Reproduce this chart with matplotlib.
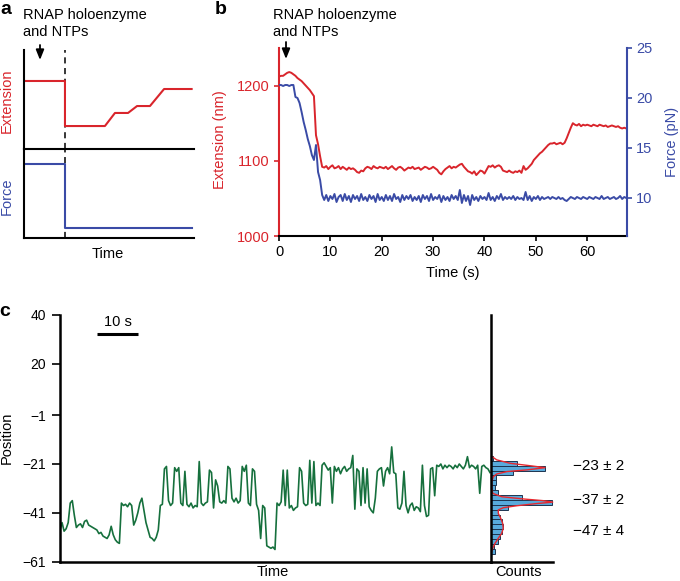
import numpy as np
import matplotlib
matplotlib.use('Agg')
import matplotlib.pyplot as plt
from matplotlib.patches import FancyArrowPatch

plt.rcParams['font.family'] = ['Liberation Sans', 'DejaVu Sans']

# ---------------- data ----------------
# panel a (schematic)
a_inject = 2.41
a_ext_t = [0, 2.41, 2.41, 4.76, 5.35, 6.12, 6.65, 7.41, 8.24, 9.86]
a_ext = [6.87, 6.87, 2.32, 2.32, 3.64, 3.64, 4.34, 4.34, 6.06, 6.06]
a_force_t = [0, 2.41, 2.41, 9.86]
a_force = [8.31, 8.31, 1.12, 1.12]

# panel b (sampled every 0.4 s)
b_dt = 0.4
b_ext = [
    1212, 1213, 1213, 1215, 1217, 1218,
    1217, 1215, 1213, 1210, 1208,
    1206, 1203, 1200, 1197, 1194, 1190, 1186,
    1134, 1122, 1106, 1092,
    1091, 1093, 1089, 1092, 1094, 1090, 1091, 1093, 1089, 1092, 1090, 1088, 1091, 1089, 1090, 1088,
    1085, 1084, 1087, 1086,
    1090, 1092, 1091, 1089, 1093, 1091, 1090, 1092, 1091,
    1090, 1092, 1089, 1091, 1093, 1090, 1088, 1091, 1092, 1090, 1087, 1089, 1091, 1090, 1092, 1089,
    1090, 1091, 1088, 1090, 1092, 1091, 1089, 1090, 1092, 1090,
    1088, 1084, 1082, 1086, 1089,
    1091, 1093, 1090, 1092, 1091, 1093, 1095,
    1096, 1092, 1089,
    1086, 1085, 1083, 1086, 1081, 1084, 1087, 1086, 1083, 1088,
    1093, 1092, 1094, 1091, 1093, 1094, 1092,
    1087, 1086, 1085, 1087, 1085, 1084, 1086, 1085, 1087, 1084, 1093,
    1088, 1090, 1093, 1096, 1101,
    1104, 1107, 1110, 1112, 1115, 1118, 1121, 1123,
    1123, 1124, 1122, 1123, 1124, 1122,
    1124, 1130, 1137, 1144, 1150,
    1148, 1147, 1149, 1146, 1148, 1147, 1148, 1147, 1146, 1148, 1147, 1146, 1148,
    1147, 1146, 1147, 1145, 1146, 1147, 1146, 1145, 1146, 1144, 1143, 1144, 1143,
]
b_force = [
    21.3, 21.3, 21.2, 21.3, 21.3, 21.2, 21.3, 21.3,
    20.1, 20.0, 19.5, 18.6, 17.6, 16.8, 15.9, 15.2, 14.3, 13.8, 15.3, 12.6, 11.8, 10.3,
    9.8, 10.3, 9.7, 10.2, 9.9, 10.4, 9.6, 10.1, 10.3, 9.7,
    10.4, 9.8, 10.2, 9.6, 10.3, 9.9, 10.2, 9.7, 10.4, 9.8,
    10.1, 9.7, 10.3, 9.9, 10.2, 9.6, 10.4, 9.8, 10.1, 9.7,
    10.3, 9.8, 10.2, 9.7, 10.4, 9.9, 10.1, 9.6, 10.3, 9.8,
    10.2, 9.9, 10.3, 9.7, 10.1, 9.8, 10.2, 9.6, 10.3, 9.9,
    10.2, 9.7, 10.4, 9.8, 10.1, 9.9, 10.3, 9.6, 10.2, 9.8,
    10.1, 9.7, 10.3, 9.9, 10.2, 9.8, 10.8, 9.5, 10.3, 9.7,
    10.2, 9.3, 10.3, 9.8, 10.1, 9.7, 10.2, 9.9, 10.1, 9.8,
    10.5, 9.8, 10.1, 9.7, 10.2, 9.9, 10.4, 9.8, 10.1, 9.9,
    10.1, 9.9, 10.2, 9.8, 10.1, 9.9, 10.0, 9.8, 10.6, 9.8,
    10.2, 9.7, 10.1, 9.9, 10.2, 9.8, 10.1, 9.9, 10.0, 10.1,
    9.9, 10.1, 10.0, 9.9, 10.1, 9.9, 10.0, 9.8, 9.7, 9.9,
    10.1, 10.0, 9.9, 10.1, 10.0, 9.9, 10.1, 10.0, 9.9, 10.1,
    10.0, 9.9, 10.1, 10.0, 9.9, 10.2, 9.9, 10.0, 10.1, 9.9,
    10.0, 10.1, 9.9, 10.0, 10.2, 9.9, 10.1, 10.0,
]
b_xticks = [0, 10, 20, 30, 40, 50, 60]
b_ext_ticks = [1000, 1100, 1200]
b_force_ticks = [10, 15, 20, 25]

# panel c (sampled every 0.5 s)
c_dt = 0.5
c_position = [
    -48, -45, -48.5, -47.5, -45, -37, -36, -42, -47, -46,
    -45.5, -47, -44.5, -44, -46, -46.5, -47, -47.5, -48, -49.5,
    -49, -50.5, -51, -51.5, -50, -46.5, -50, -52, -53, -53.5,
    -37, -38, -37.5, -38.5, -37, -38, -46, -44, -41, -37,
    -35, -40, -45, -48, -51, -51.5, -52.5, -51, -48, -38,
    -37.5, -23, -22, -36, -38, -37, -22.5, -24, -22.5, -37,
    -38, -24, -37.5, -38.5, -37, -39, -38, -38.5, -20, -37,
    -38, -37, -36.5, -23.5, -24.5, -39, -27.5, -30, -36.5, -37,
    -36, -37, -22, -23, -35, -36.5, -35, -37, -36, -22,
    -24, -21.5, -37, -38, -23, -24, -37.5, -40, -51.5, -38,
    -39, -54.5, -55, -55.5, -55, -56, -37, -38, -36.5, -23.5,
    -38, -23.5, -39, -38, -40, -39, -38.5, -22.5, -24, -37,
    -38, -37.5, -19.5, -37, -20, -38, -37, -38, -21.5, -20.5,
    -22, -23.5, -22.5, -37, -22, -24, -22.5, -25, -23, -22,
    -24, -23, -22.5, -17.5, -39.5, -23, -24, -38, -22.5, -37,
    -23, -38.5, -40, -41, -35, -24, -23, -22.5, -30, -24,
    -22.5, -25, -14, -24.5, -25, -39, -39.5, -37, -24, -38,
    -41, -38, -37, -40, -38.5, -39, -40.5, -21.5, -38, -42.5,
    -42, -23, -22.5, -34, -21.5, -22, -21, -23, -21.5, -22.5,
    -21.5, -22, -23, -21.5, -22.5, -21, -22, -23, -21.5, -18,
    -22.5, -21.5, -22, -23, -21.5, -33, -22, -21.5, -22.5, -23,
    -24.5,
]
c_yticks = [40, 20, -1, -21, -41, -61]
c_scale_len = 10
hist_centers = [-18.7, -20.7, -22.7, -24.7, -26.7, -28.7, -30.7, -32.7, -34.7, -36.7,
                -38.7, -40.7, -42.7, -44.7, -46.7, -48.7, -50.7, -52.7, -54.7, -56.7]
hist_counts = [2, 26, 54, 22, 5, 5, 4, 7, 31, 61,
               17, 7, 9, 11, 12, 11, 9, 7, 3, 4]
fit_pos = [-17.9, -19.3, -20.7, -21.7, -22.5, -23.4, -24.1, -25.1, -26.2, -28.2,
           -31.0, -33.0, -34.4, -35.3, -36.0, -36.6, -37.2, -38.1, -38.9, -39.8,
           -41.2, -43.2, -45.3, -47.3, -49.4, -51.4, -53.5, -55.5, -56.9]
fit_counts = [0.7, 5.7, 19, 39, 54, 36, 16, 5.7, 2.3, 0.7,
              0.8, 1.7, 10.7, 32, 52, 61.7, 45.7, 25.7, 12.3, 7.3,
              7.3, 9.7, 11.7, 12.3, 10.7, 7.3, 4.0, 1.7, 0.7]
peak_labels = ['\u221223 \u00b1 2', '\u221237 \u00b1 2', '\u221247 \u00b1 4']

RED = '#d9252c'
BLUE = '#3a4ba6'
GREEN = '#16703d'

# ---------------- figure ----------------
W, H = 680, 581
fig = plt.figure(figsize=(6.8, 5.81), dpi=100)


def box(l, t, r, b):
    return [l / W, 1 - b / H, (r - l) / W, (b - t) / H]


def ftext(x, y, s, **kw):
    kw.setdefault('ha', 'center')
    kw.setdefault('va', 'center')
    kw.setdefault('fontsize', 10.5)
    fig.text(x / W, 1 - y / H, s, **kw)


def farrow(x, y0, y1):
    p = FancyArrowPatch((x / W, 1 - y0 / H), (x / W, 1 - y1 / H),
                        transform=fig.transFigure,
                        arrowstyle='-|>,head_length=0.5,head_width=0.2',
                        mutation_scale=12, lw=1.3, color='black', shrinkA=0, shrinkB=0)
    fig.add_artist(p)


# ---- panel a ----
axA1 = fig.add_axes(box(24, 50, 194, 149))
axA2 = fig.add_axes(box(24, 149, 194, 238))
for ax in (axA1, axA2):
    ax.set_facecolor('none')
    ax.set_xlim(0, 10)
    ax.set_ylim(0, 10)
    for s in ('top', 'right'):
        ax.spines[s].set_visible(False)
    for s in ('left', 'bottom'):
        ax.spines[s].set_linewidth(1.5)
    ax.set_xticks([])
    ax.set_yticks([])
    ax.axvline(a_inject, color='black', lw=1.1, ls=(0, (4, 3)))
axA1.plot(a_ext_t, a_ext, color=RED, lw=1.5)
axA2.plot(a_force_t, a_force, color=BLUE, lw=1.5)
ftext(7, 101, 'Extension', rotation=90, color=RED)
ftext(7, 196, 'Force', rotation=90, color=BLUE)
ftext(108, 254, 'Time')
ftext(22.7, 15, 'RNAP holoenzyme', ha='left')
ftext(22.7, 32.3, 'and NTPs', ha='left')
farrow(40, 45, 60)
ftext(6, 9, 'a', fontsize=14, fontweight='bold')

# ---- panel b ----
axB = fig.add_axes(box(279, 48, 627.3, 236))
axB.set_facecolor('none')
axB2 = axB.twinx()
b_time = np.arange(len(b_ext)) * b_dt
b_time_f = np.arange(len(b_force)) * b_dt
axB.plot(b_time, b_ext, color=RED, lw=1.4)
axB2.plot(b_time_f, b_force, color=BLUE, lw=1.4)
axB.set_xlim(0, 67.8)
axB.set_ylim(1000, 1250)
axB2.set_ylim(6.2, 25)
axB.set_xticks(b_xticks)
axB.set_yticks(b_ext_ticks)
axB2.set_yticks(b_force_ticks)
for s in ('top', 'right'):
    axB.spines[s].set_visible(False)
for s in ('top', 'left', 'bottom'):
    axB2.spines[s].set_visible(False)
axB.spines['left'].set_color(RED)
axB.spines['left'].set_linewidth(1.5)
axB.spines['bottom'].set_linewidth(1.5)
axB2.spines['right'].set_color(BLUE)
axB2.spines['right'].set_linewidth(1.5)
axB.tick_params(axis='x', length=3.5, width=1.2, pad=3, labelsize=10.5)
axB.tick_params(axis='y', length=3.5, width=1.2, pad=3, labelsize=10.5, colors=RED)
axB2.tick_params(axis='y', length=3.5, width=1.2, pad=3, labelsize=10.5, colors=BLUE)
ftext(220, 140, 'Extension (nm)', rotation=90, color=RED)
ftext(672, 142, 'Force (pN)', rotation=90, color=BLUE)
ftext(453, 273, 'Time (s)')
ftext(273.3, 15, 'RNAP holoenzyme', ha='left')
ftext(273.3, 32.3, 'and NTPs', ha='left')
farrow(286, 42, 59)
ftext(221, 9, 'b', fontsize=14, fontweight='bold')

# ---- panel c ----
axC = fig.add_axes(box(60, 315, 491, 561.7))
axH = fig.add_axes(box(491, 315, 552.7, 561.7), sharey=axC)
c_time = np.arange(len(c_position)) * c_dt
axC.plot(c_time, c_position, color=GREEN, lw=1.2)
axC.set_xlim(0, 105.25)
axC.set_ylim(-61, 40)
axC.set_yticks(c_yticks)
axC.set_xticks([])
for s in ('top', 'right'):
    axC.spines[s].set_visible(False)
    axH.spines[s].set_visible(False)
for s in ('left', 'bottom'):
    axC.spines[s].set_linewidth(1.8)
    axH.spines[s].set_linewidth(1.8)
axC.tick_params(axis='y', length=6, width=1.2, pad=4, labelsize=10)
axC.plot([9.1, 9.1 + c_scale_len], [32.3, 32.3], color='black', lw=2.2, solid_capstyle='butt')
axC.text(9.1 + c_scale_len / 2, 37.3, '10 s', ha='center', va='center', fontsize=10.5)

axH.barh(hist_centers, hist_counts, height=2.0, left=0, color='#58aadb',
         edgecolor='#1e3550', lw=0.7)
axH.plot(fit_counts, fit_pos, color='#e8282e', lw=1.0, clip_on=False)
axH.set_xlim(0, 61.7)
axH.set_xticks([])
axH.tick_params(axis='y', left=False, labelleft=False)
axH.set_facecolor('none')

for lab, y in zip(peak_labels, [465.7, 500, 530.7]):
    ftext(572.7, y, lab, ha='left', fontsize=11)
ftext(7, 438, 'Position', rotation=90)
ftext(273, 572, 'Time')
ftext(519, 572, 'Counts')
ftext(5, 311, 'c', fontsize=14, fontweight='bold')

fig.savefig('out.png', dpi=100)
